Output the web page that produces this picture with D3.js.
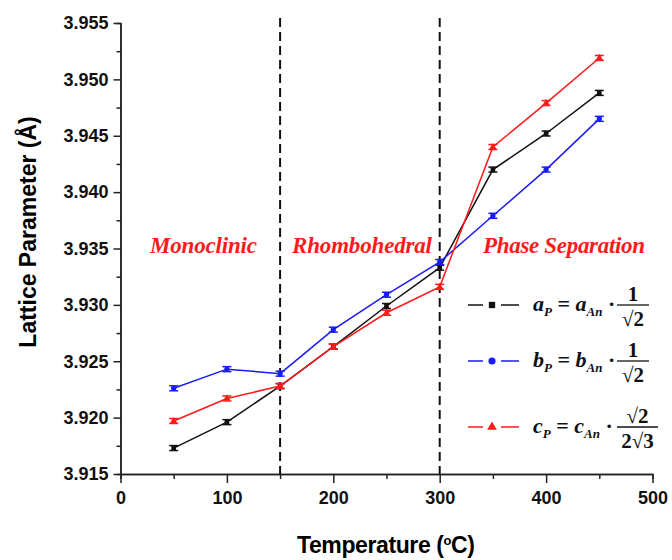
<!DOCTYPE html>
<html>
<head>
<meta charset="utf-8">
<script src="https://cdn.jsdelivr.net/npm/d3@7"></script>
<style>
  body { margin: 0; background: #fff; }
  .tick text { font-family: "Liberation Sans", Arial, sans-serif; font-weight: bold; font-size: 18px; fill: #111; }
  .axis path, .axis line { stroke: #222; stroke-width: 1.5; }
  .phase { font-family: "Liberation Serif", serif; font-style: italic; font-weight: bold; font-size: 23px; fill: #ff1a1a; }
  .eq { font-family: "Liberation Serif", serif; font-weight: bold; fill: #111; }
</style>
</head>
<body>
<svg></svg>
<script>
// temperatures (°C)
let temps = [50, 100, 150, 200, 250, 300, 350, 400, 450]

// lattice parameters (Å)
let aP = [3.9173, 3.9196, 3.9228, 3.9263, 3.9299, 3.9333, 3.9420, 3.9452, 3.9488]
let bP = [3.9226, 3.9243, 3.9239, 3.9278, 3.9309, 3.9338, 3.9379, 3.9420, 3.9465]
let cP = [3.9197, 3.9217, 3.9228, 3.9263, 3.9293, 3.9316, 3.9440, 3.9479, 3.9519]
let errs = 0.00022

let xTicks = [0, 100, 200, 300, 400, 500]
let yTicks = [3.915, 3.920, 3.925, 3.930, 3.935, 3.940, 3.945, 3.950, 3.955]
let phaseBounds = [150, 300]
let phaseNames = ["Monoclinic", "Rhombohedral", "Phase Separation"]

var svg = d3.select("svg")
    .attr("width", 672)
    .attr("height", 560)

let scX = d3.scaleLinear().domain([0, 500]).range([120.5, 652.5])
let scY = d3.scaleLinear().domain([3.915, 3.955]).range([474, 23])

// minor ticks first so the major ones sit on top
svg.append("g").attr("class", "axis")
    .attr("transform", `translate(0, ${scY(3.915)})`)
    .call(d3.axisBottom(scX).tickValues(d3.range(50, 500, 100)).tickSize(5).tickFormat(""))
svg.append("g").attr("class", "axis")
    .attr("transform", `translate(${scX(0)}, 0)`)
    .call(d3.axisLeft(scY).tickValues(yTicks.slice(0, -1).map(d => d + 0.0025)).tickSize(4).tickFormat(""))

svg.append("g").attr("class", "axis")
    .attr("transform", `translate(0, ${scY(3.915)})`)
    .call(d3.axisBottom(scX).tickValues(xTicks).tickSize(9).tickSizeOuter(0).tickPadding(8))
svg.append("g").attr("class", "axis")
    .attr("transform", `translate(${scX(0)}, 0)`)
    .call(d3.axisLeft(scY).tickValues(yTicks).tickFormat(d3.format(".3f")).tickSize(7).tickSizeOuter(0).tickPadding(5))

// axis titles
svg.append("text")
    .attr("x", 386).attr("y", 553)
    .attr("text-anchor", "middle")
    .style("font-family", "Liberation Sans, Arial, sans-serif")
    .style("font-weight", "bold").style("font-size", "23px")
    .attr("textLength", 178)
    .html('Temperature (<tspan dy="-8" font-size="13">o</tspan><tspan dy="8">C)</tspan>')

svg.append("text")
    .attr("transform", "translate(36, 232) rotate(-90)")
    .attr("text-anchor", "middle")
    .style("font-family", "Liberation Sans, Arial, sans-serif")
    .style("font-weight", "bold").style("font-size", "23px")
    .text("Lattice Parameter (Å)")

// phase boundaries
svg.selectAll(".bound").data(phaseBounds).enter().append("line")
    .attr("x1", d => scX(d)).attr("x2", d => scX(d))
    .attr("y1", 18).attr("y2", scY(3.915))
    .attr("stroke", "#111").attr("stroke-width", 2)
    .attr("stroke-dasharray", "9,5")

let phaseX = [150, 292, 483]
let phaseW = [107, 140, 162]
svg.selectAll(".phase").data(phaseNames).enter().append("text")
    .attr("class", "phase")
    .attr("x", (d, i) => phaseX[i]).attr("y", 253)
    .attr("textLength", (d, i) => phaseW[i])
    .text(d => d)

let series = [
    {vals: aP, color: "#111", shape: d3.symbolSquare},
    {vals: bP, color: "#1a1aff", shape: d3.symbolCircle},
    {vals: cP, color: "#ff1a1a", shape: d3.symbolTriangle}
]

let valueLine = d3.line()
    .x((d, i) => scX(temps[i]))
    .y(d => scY(d))

series.forEach(s => {
    let g = svg.append("g")
    g.append("path")
        .attr("d", valueLine(s.vals))
        .attr("fill", "none").attr("stroke", s.color).attr("stroke-width", 1.5)
    // error bars
    let eb = g.selectAll(".eb").data(s.vals).enter().append("g")
        .attr("transform", (d, i) => `translate(${scX(temps[i])}, 0)`)
    eb.append("line")
        .attr("y1", d => scY(d - errs)).attr("y2", d => scY(d + errs))
        .attr("stroke", s.color).attr("stroke-width", 1.5)
    eb.append("line")
        .attr("x1", -4.5).attr("x2", 4.5)
        .attr("y1", d => scY(d - errs)).attr("y2", d => scY(d - errs))
        .attr("stroke", s.color).attr("stroke-width", 1.5)
    eb.append("line")
        .attr("x1", -4.5).attr("x2", 4.5)
        .attr("y1", d => scY(d + errs)).attr("y2", d => scY(d + errs))
        .attr("stroke", s.color).attr("stroke-width", 1.5)
    eb.append("path")
        .attr("d", d3.symbol().type(s.shape).size(22))
        .attr("transform", d => `translate(0, ${scY(d)})`)
        .attr("fill", s.color)
})

// legend
let legY = [305, 361, 427]
let legSym = ["a", "b", "c"]
series.forEach((s, i) => {
    let cy = legY[i]
    let g = svg.append("g")
    g.append("line").attr("x1", 468).attr("x2", 483).attr("y1", cy).attr("y2", cy)
        .attr("stroke", s.color).attr("stroke-width", 1.5)
    g.append("line").attr("x1", 501).attr("x2", 519).attr("y1", cy).attr("y2", cy)
        .attr("stroke", s.color).attr("stroke-width", 1.5)
    g.append("path").attr("d", d3.symbol().type(s.shape).size(40))
        .attr("transform", `translate(492, ${cy})`).attr("fill", s.color)

    let t = g.append("text").attr("class", "eq").attr("x", 533).attr("y", cy + 6).style("font-size", "22px")
    t.append("tspan").attr("font-style", "italic").text(legSym[i])
    t.append("tspan").attr("font-style", "italic").attr("font-size", 13).attr("dy", 5).text("P")
    t.append("tspan").attr("dy", -5).text(" = ")
    t.append("tspan").attr("font-style", "italic").text(legSym[i])
    t.append("tspan").attr("font-style", "italic").attr("font-size", 13).attr("dy", 5).text("An")
    t.append("tspan").attr("dy", -5).text(" ·")

    let fx0 = 617, fx1 = i == 2 ? 658 : 649, fc = (fx0 + fx1) / 2
    g.append("line").attr("x1", fx0).attr("x2", fx1).attr("y1", cy).attr("y2", cy)
        .attr("stroke", "#111").attr("stroke-width", 1.3)
    let num = i == 2 ? "√2" : "1"
    let den = i == 2 ? "2√3" : "√2"
    g.append("text").attr("class", "eq").attr("x", fc).attr("y", cy - 4)
        .attr("text-anchor", "middle").style("font-size", "21px").text(num)
    g.append("text").attr("class", "eq").attr("x", fc).attr("y", cy + 21)
        .attr("text-anchor", "middle").style("font-size", "21px").text(den)
})
</script>
</body>
</html>
